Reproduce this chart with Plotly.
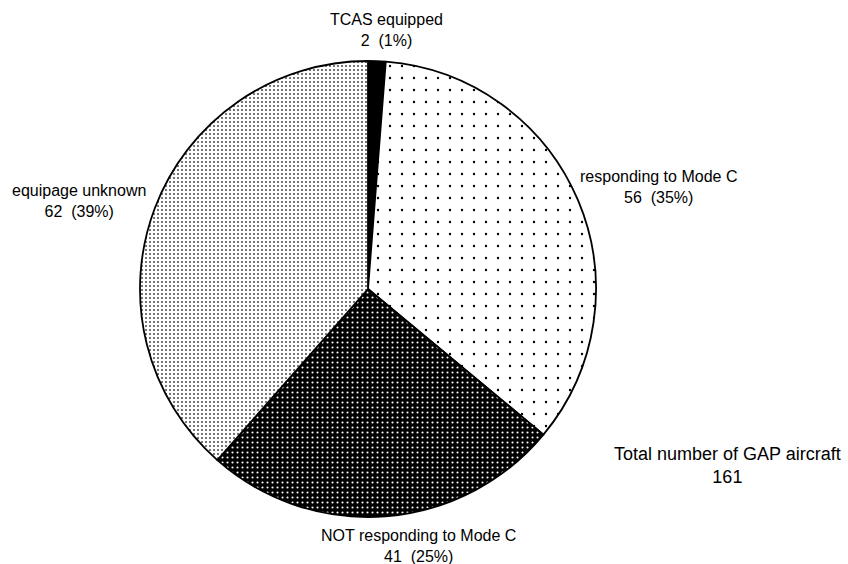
import plotly.graph_objects as go

# GAP aircraft by transponder / TCAS equipage
categories = ["TCAS equipped", "responding to Mode C",
              "NOT responding to Mode C", "equipage unknown"]
counts = [2, 56, 41, 62]
total_label = "Total number of GAP aircraft"

total = sum(counts)

# fill patterns per slice
patterns = [
    dict(shape="", bgcolor="black"),
    dict(shape=".", fgcolor="black", bgcolor="white", size=12, solidity=0.03),
    dict(shape=".", fgcolor="white", bgcolor="black", size=5, solidity=0.14),
    dict(shape=".", fgcolor="#3a3a3a", bgcolor="white", size=4, solidity=0.17),
]

W, H = 848, 564
cx, cy, r = 368, 289, 228

fig = go.Figure(go.Pie(
    labels=categories,
    values=counts,
    sort=False,
    direction="clockwise",
    rotation=0,
    textinfo="none",
    hoverinfo="label+value+percent",
    marker=dict(
        colors=["black", "white", "black", "white"],
        line=dict(color="black", width=1.8),
        pattern=dict(
            shape=[p["shape"] for p in patterns],
            fgcolor=[p.get("fgcolor", "black") for p in patterns],
            bgcolor=[p["bgcolor"] for p in patterns],
            size=[p.get("size", 8) for p in patterns],
            solidity=[p.get("solidity", 0.3) for p in patterns],
        ),
    ),
    domain=dict(x=[(cx - r) / W, (cx + r) / W],
                y=[(H - cy - r) / H, (H - cy + r) / H]),
    showlegend=False,
))

# label placement (pixel centres of each text block)
label_pos = [(386, 30), (658, 187), (418, 546), (79, 201)]

font = dict(family="Liberation Sans, Arial, sans-serif", size=16, color="black")
for name, v, (px, py) in zip(categories, counts, label_pos):
    pct = round(100 * v / total)
    fig.add_annotation(
        x=px / W, y=1 - py / H, xref="paper", yref="paper",
        xanchor="center", yanchor="middle", showarrow=False, align="center",
        text=f"{name}<br>{v}&nbsp; ({pct}%)", font=font,
    )

fig.add_annotation(
    x=727 / W, y=1 - 465 / H, xref="paper", yref="paper",
    xanchor="center", yanchor="middle", showarrow=False, align="center",
    text=f"{total_label}<br>{total}",
    font=dict(family="Liberation Sans, Arial, sans-serif", size=18, color="black"),
)

fig.update_layout(
    width=W, height=H,
    margin=dict(l=0, r=0, t=0, b=0),
    paper_bgcolor="white",
    plot_bgcolor="white",
)

fig.write_html("out.html")
